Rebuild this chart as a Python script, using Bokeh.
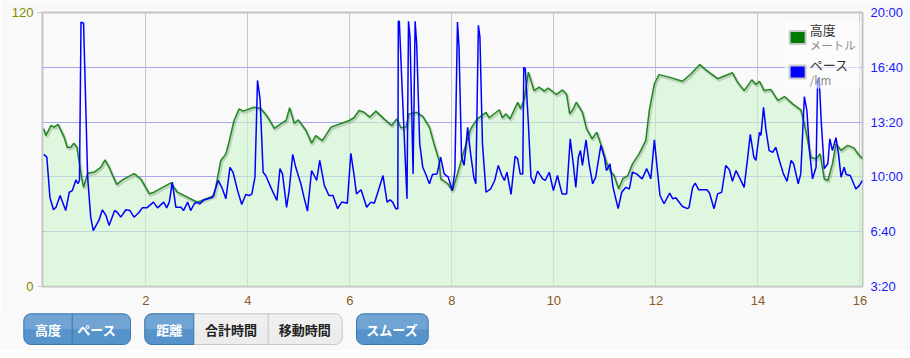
from bokeh.plotting import figure
from bokeh.models import Range1d, LinearAxis, FixedTicker, Grid
from bokeh.layouts import column, row
from bokeh.embed import file_html
from bokeh.resources import INLINE
from bokeh.core.properties import value

# ---------------- data ----------------
elev_km = [0, 0.04, 0.14, 0.2, 0.28, 0.4, 0.46, 0.53, 0.59, 0.65,
           0.69, 0.74, 0.78, 0.86, 0.99, 1.12, 1.2, 1.28, 1.35, 1.43,
           1.54, 1.77, 1.9, 2.07, 2.16, 2.49, 2.62, 3.01, 3.18, 3.34,
           3.47, 3.57, 3.63, 3.73, 3.83, 3.91, 4.12, 4.25, 4.39, 4.52,
           4.65, 4.75, 4.82, 4.91, 4.99, 5.14, 5.25, 5.33, 5.46, 5.63,
           5.99, 6.08, 6.18, 6.28, 6.39, 6.51, 6.67, 6.82, 6.92, 7.0,
           7.1, 7.16, 7.31, 7.43, 7.56, 7.65, 7.75, 7.78, 7.92, 8.01,
           8.11, 8.24, 8.37, 8.5, 8.67, 8.73, 8.93, 8.99, 9.06, 9.14,
           9.29, 9.35, 9.42, 9.5, 9.61, 9.71, 9.81, 9.89, 10.05, 10.17,
           10.25, 10.31, 10.37, 10.44, 10.56, 10.64, 10.75, 10.84, 10.94, 11.03,
           11.1, 11.18, 11.27, 11.35, 11.45, 11.54, 11.67, 11.8, 11.87, 11.97,
           12.06, 12.26, 12.52, 12.69, 12.86, 12.98, 13.21, 13.5, 13.6, 13.73,
           13.88, 13.96, 14.03, 14.12, 14.25, 14.39, 14.52, 14.68, 14.84, 14.91,
           15.04, 15.14, 15.22, 15.3, 15.37, 15.46, 15.53, 15.63, 15.76, 15.88,
           15.96, 16.05]
elev_m = [69.1, 66.1, 70.5, 69.8, 71.0, 65.4, 61.0, 61.0, 62.8, 61.0,
          55.2, 47.9, 43.5, 49.6, 50.1, 52.3, 55.5, 52.3, 48.6, 44.7,
          46.7, 49.4, 47.2, 40.6, 41.3, 45.4, 41.3, 36.9, 38.4, 39.9,
          55.2, 58.1, 63.2, 72.7, 77.8, 76.8, 78.5, 78.1, 74.2, 69.3,
          71.3, 72.7, 78.3, 71.5, 73.0, 68.3, 62.8, 66.1, 63.9, 69.8,
          72.7, 73.9, 77.1, 76.3, 74.2, 76.8, 73.4, 70.5, 73.4, 69.5,
          69.8, 75.6, 76.3, 74.5, 69.8, 62.5, 55.2, 47.2, 45.0, 42.0,
          49.4, 59.6, 69.1, 73.4, 76.3, 73.9, 77.4, 73.9, 75.6, 73.4,
          80.7, 77.8, 82.2, 93.9, 85.8, 87.3, 85.6, 86.9, 84.1, 86.1,
          84.1, 75.6, 77.4, 80.7, 76.3, 69.1, 64.7, 67.6, 61.0, 54.4,
          50.8, 48.6, 42.8, 47.2, 48.6, 53.7, 58.1, 63.9, 77.1, 88.8,
          92.8, 91.7, 89.9, 93.2, 97.2, 94.9, 91.0, 93.6, 89.5, 85.8,
          90.5, 88.5, 89.9, 85.8, 86.3, 81.5, 83.2, 80.0, 77.4, 71.3,
          56.6, 55.9, 58.1, 47.2, 46.4, 53.7, 62.5, 59.6, 61.8, 60.7,
          58.1, 55.9]

pace_km = [0, 0.06, 0.12, 0.19, 0.24, 0.32, 0.43, 0.5, 0.56, 0.63,
           0.67, 0.7, 0.73, 0.78, 0.86, 0.92, 0.97, 1.08, 1.15, 1.22,
           1.28, 1.39, 1.44, 1.51, 1.61, 1.69, 1.77, 1.87, 1.93, 2.02,
           2.15, 2.23, 2.35, 2.41, 2.46, 2.52, 2.59, 2.69, 2.74, 2.82,
           2.88, 2.95, 3.0, 3.06, 3.14, 3.31, 3.42, 3.49, 3.57, 3.65,
           3.71, 3.8, 3.88, 3.96, 4.03, 4.08, 4.14, 4.19, 4.24, 4.3,
           4.35, 4.48, 4.57, 4.63, 4.68, 4.76, 4.81, 4.88, 4.94, 5.04,
           5.1, 5.17, 5.25, 5.3, 5.35, 5.41, 5.5, 5.59, 5.67, 5.76,
           5.84, 5.95, 6.02, 6.08, 6.13, 6.22, 6.33, 6.41, 6.48, 6.58,
           6.65, 6.73, 6.79, 6.84, 6.9, 6.94, 6.95, 6.97, 7.03, 7.12,
           7.15, 7.18, 7.24, 7.28, 7.31, 7.37, 7.43, 7.49, 7.56, 7.62,
           7.71, 7.78, 7.85, 7.93, 8.01, 8.06, 8.11, 8.14, 8.19, 8.24,
           8.31, 8.36, 8.43, 8.47, 8.52, 8.55, 8.6, 8.67, 8.76, 8.84,
           8.91, 8.98, 9.03, 9.08, 9.16, 9.24, 9.29, 9.34, 9.39, 9.41,
           9.44, 9.5, 9.55, 9.61, 9.68, 9.78, 9.83, 9.91, 9.99, 10.07,
           10.16, 10.25, 10.32, 10.38, 10.43, 10.48, 10.52, 10.56, 10.63, 10.69,
           10.76, 10.82, 10.92, 10.99, 11.03, 11.1, 11.16, 11.26, 11.33, 11.41,
           11.48, 11.54, 11.62, 11.73, 11.82, 11.9, 11.97, 12.03, 12.08, 12.16,
           12.27, 12.33, 12.39, 12.52, 12.62, 12.65, 12.72, 12.77, 12.84, 13.0,
           13.05, 13.14, 13.21, 13.29, 13.37, 13.44, 13.5, 13.57, 13.63, 13.73,
           13.8, 13.85, 13.92, 13.96, 14.03, 14.06, 14.11, 14.16, 14.22, 14.29,
           14.35, 14.42, 14.5, 14.57, 14.65, 14.7, 14.79, 14.84, 14.91, 14.96,
           15.01, 15.07, 15.14, 15.17, 15.2, 15.24, 15.3, 15.37, 15.41, 15.46,
           15.53, 15.58, 15.63, 15.69, 15.73, 15.81, 15.92, 15.99, 16.05]
pace_sec = [682, 672, 526, 480, 489, 532, 477, 544, 550, 589,
            575, 587, 1165, 1161, 599, 453, 404, 441, 480, 459,
            423, 477, 471, 453, 480, 477, 453, 471, 487, 487,
            508, 487, 508, 487, 508, 581, 489, 489, 477, 508,
            477, 502, 508, 502, 516, 526, 587, 562, 520, 635,
            617, 550, 499, 536, 532, 538, 599, 952, 885, 617,
            605, 550, 514, 630, 611, 489, 550, 682, 635, 575,
            526, 475, 623, 605, 587, 660, 569, 532, 532, 484,
            508, 504, 686, 611, 538, 553, 489, 508, 504, 562,
            605, 508, 516, 508, 484, 484, 1168, 1168, 903, 520,
            1168, 1110, 611, 1168, 1086, 721, 635, 609, 575, 609,
            611, 672, 611, 599, 550, 623, 1165, 1073, 672, 642,
            781, 696, 599, 575, 1153, 1110, 721, 544, 556, 587,
            642, 605, 587, 617, 536, 675, 666, 611, 611, 1000,
            995, 794, 599, 575, 621, 593, 587, 617, 550, 605,
            538, 538, 739, 648, 562, 672, 696, 642, 735, 648,
            575, 599, 715, 672, 623, 648, 562, 484, 544, 562,
            556, 617, 611, 593, 630, 593, 735, 623, 532, 502,
            541, 520, 524, 492, 484, 489, 562, 577, 553, 553,
            541, 484, 538, 544, 642, 626, 584, 623, 601, 562,
            672, 755, 672, 660, 763, 751, 854, 769, 696, 690,
            708, 660, 611, 584, 660, 648, 575, 611, 893, 842,
            696, 593, 635, 952, 964, 806, 630, 648, 739, 696,
            743, 684, 599, 635, 609, 605, 556, 569, 587]

x_ticks = [2, 4, 6, 8, 10, 12, 14, 16]
elev_ticks = [0, 120]
pace_ticks = [200, 400, 600, 800, 1000, 1200]
pace_tick_labels = ["3:20", "6:40", "10:00", "13:20", "16:40", "20:00"]
legend_names = ["高度", "ペース"]
legend_units = ["メートル", "/km"]
legend_colors = ["#007a00", "#0000ff"]
button_group1 = ["高度", "ペース"]
button_group2 = ["距離", "合計時間", "移動時間"]
button_single = "スムーズ"

# ---------------- main chart ----------------
BG = "#f9f9f9"
AXFONT = "Liberation Sans"
JPFONT = "Noto Sans CJK JP"

p = figure(width=910, height=312, output_backend="svg", toolbar_location=None,
           x_range=Range1d(-0.025, 16.05), y_range=Range1d(0, 120),
           min_border_left=42, min_border_right=48, min_border_top=12, min_border_bottom=26,
           background_fill_color=BG, border_fill_color=BG,
           outline_line_color="#c4c4c4", outline_line_width=2)
p.extra_y_ranges = {"pace": Range1d(200, 1200)}

# bottom axis
p.xaxis.ticker = FixedTicker(ticks=x_ticks)
p.xaxis.axis_line_color = None
p.xaxis.major_tick_line_color = None
p.xaxis.major_tick_out = 0
p.xaxis.major_tick_in = 0
p.xaxis.minor_tick_line_color = None
p.xaxis.major_label_standoff = 9
p.xaxis.major_label_text_color = "#8a5a2a"
p.xaxis.major_label_text_font = AXFONT
p.xaxis.major_label_text_font_size = "13px"

# left axis
p.yaxis.ticker = FixedTicker(ticks=elev_ticks)
p.yaxis.axis_line_color = None
p.yaxis.major_tick_out = 5
p.yaxis.major_tick_in = 0
p.yaxis.major_tick_line_color = "#c8c8c8"
p.yaxis.minor_tick_line_color = None
p.yaxis.major_label_standoff = 4
p.yaxis.major_label_text_color = "#7d8c00"
p.yaxis.major_label_text_font = AXFONT
p.yaxis.major_label_text_font_size = "13px"

# right axis
ra = LinearAxis(y_range_name="pace", ticker=FixedTicker(ticks=pace_ticks),
                major_label_overrides={t: l for t, l in zip(pace_ticks, pace_tick_labels)})
ra.axis_line_color = None
ra.major_tick_line_color = None
ra.major_tick_out = 0
ra.major_tick_in = 0
ra.minor_tick_line_color = None
ra.major_label_standoff = 8
ra.major_label_text_color = "#1a1aff"
ra.major_label_text_font = AXFONT
ra.major_label_text_font_size = "13px"
p.add_layout(ra, "right")

# grids
p.xgrid.ticker = FixedTicker(ticks=x_ticks)
p.xgrid.grid_line_color = "#c8c8c8"
p.ygrid.visible = False
p.add_layout(Grid(dimension=1, ticker=FixedTicker(ticks=pace_ticks[1:-1]),
                  y_range_name="pace", grid_line_color="#a8a8f0"), "center")

# elevation area + line
p.varea(x=elev_km, y1=0, y2=elev_m, fill_color="#ccf5cc", fill_alpha=0.6)
p.line(x=[k + 0.02 for k in elev_km], y=[e - 0.7 for e in elev_m],
       line_color="#000000", line_alpha=0.15, line_width=3)
p.line(x=elev_km, y=elev_m, line_color="#1f881f", line_width=1.5)

# pace line
p.line(x=pace_km, y=pace_sec, y_range_name="pace", line_color="#0000ff", line_width=1.5)

# legend (manual)
def kx(px):
    return (px - 43.3) / 51.0

def ey(py):
    return (286 - py) * 120.0 / 274.0

p.quad(left=kx(784), right=kx(860), top=ey(21), bottom=ey(88),
       fill_color="#ffffff", fill_alpha=0.55, line_color=None)
sq_top = [30.5, 65]
name_y = [29, 63.5]
unit_y = [44.5, 79]
for i in range(2):
    p.quad(left=kx(789), right=kx(805), top=ey(sq_top[i]), bottom=ey(sq_top[i] + 13),
           fill_color=legend_colors[i], line_color="#c8c8c8", line_width=2)
    p.text(x=[kx(809)], y=[ey(name_y[i])], text=[legend_names[i]],
           text_font=value(JPFONT), text_font_size="13px", text_color="#333333",
           text_baseline="middle")
    p.text(x=[kx(809)], y=[ey(unit_y[i])], text=[legend_units[i]],
           text_font=value(JPFONT), text_font_size="11.5px", text_color="#8a8a8a",
           text_baseline="middle")

# ---------------- buttons row ----------------
b = figure(width=910, height=38, output_backend="svg", toolbar_location=None,
           x_range=Range1d(0, 910), y_range=Range1d(38, 0),
           min_border=0, min_border_left=0, min_border_right=0,
           min_border_top=0, min_border_bottom=0, outline_line_color=None,
           background_fill_color=BG, border_fill_color=BG,
           x_axis_location=None, y_axis_location=None)
b.grid.visible = False

BLUE = "#5693cb"
BLUE_BORDER = "#3b77ab"
WHITE = "#ececec"
GREY_BORDER = "#c6c6c6"
top, bot = 1.3, 32
mid = (top + bot) / 2
ytxt = 17.3

def button_box(left, right, fill, border, radius):
    # base box plus a lighter upper half to imitate the vertical gradient
    if isinstance(radius, tuple):
        r_top = (radius[0], radius[1], 0, 0)
    else:
        r_top = (radius, radius, 0, 0)
    b.quad(left=left, right=right, top=top, bottom=bot, fill_color=fill,
           line_color=None, border_radius=radius)
    b.quad(left=left, right=right, top=top, bottom=mid, fill_color="#ffffff",
           fill_alpha=0.16, line_color=None, border_radius=r_top)
    b.quad(left=left, right=right, top=top, bottom=bot, fill_color=None,
           line_color=border, line_width=1, border_radius=radius)

# group 1
button_box(23.3, 130, BLUE, BLUE_BORDER, 7)
b.segment(x0=71.7, x1=71.7, y0=top, y1=bot, line_color=BLUE_BORDER, line_width=1)
for cx, lab in zip([47.5, 96.3], button_group1):
    b.text(x=[cx], y=[ytxt], text=[lab], text_font=value(JPFONT), text_font_size="13px",
           text_font_style="bold", text_color="#ffffff", text_align="center",
           text_baseline="middle")

# group 2
button_box(144.3, 341.7, WHITE, GREY_BORDER, 7)
button_box(144.3, 193.3, BLUE, BLUE_BORDER, (7, 0, 0, 7))
b.segment(x0=267.7, x1=267.7, y0=top, y1=bot, line_color=GREY_BORDER, line_width=1)
for cx, lab, col in zip([168.8, 230.5, 304.3], button_group2, ["#ffffff", "#222222", "#222222"]):
    b.text(x=[cx], y=[ytxt], text=[lab], text_font=value(JPFONT), text_font_size="13px",
           text_font_style="bold", text_color=col, text_align="center",
           text_baseline="middle")

# single button
button_box(356, 427.7, BLUE, BLUE_BORDER, 7)
b.text(x=[391.8], y=[ytxt], text=[button_single], text_font=value(JPFONT), text_font_size="13px",
       text_font_style="bold", text_color="#ffffff", text_align="center",
       text_baseline="middle")

layout = column(p, row(b, spacing=0), spacing=0)
html = file_html(layout, INLINE)
html = html.replace("<body>", '<body style="background-color:#f9f9f9;">', 1)
open("out.html", "w").write(html)
